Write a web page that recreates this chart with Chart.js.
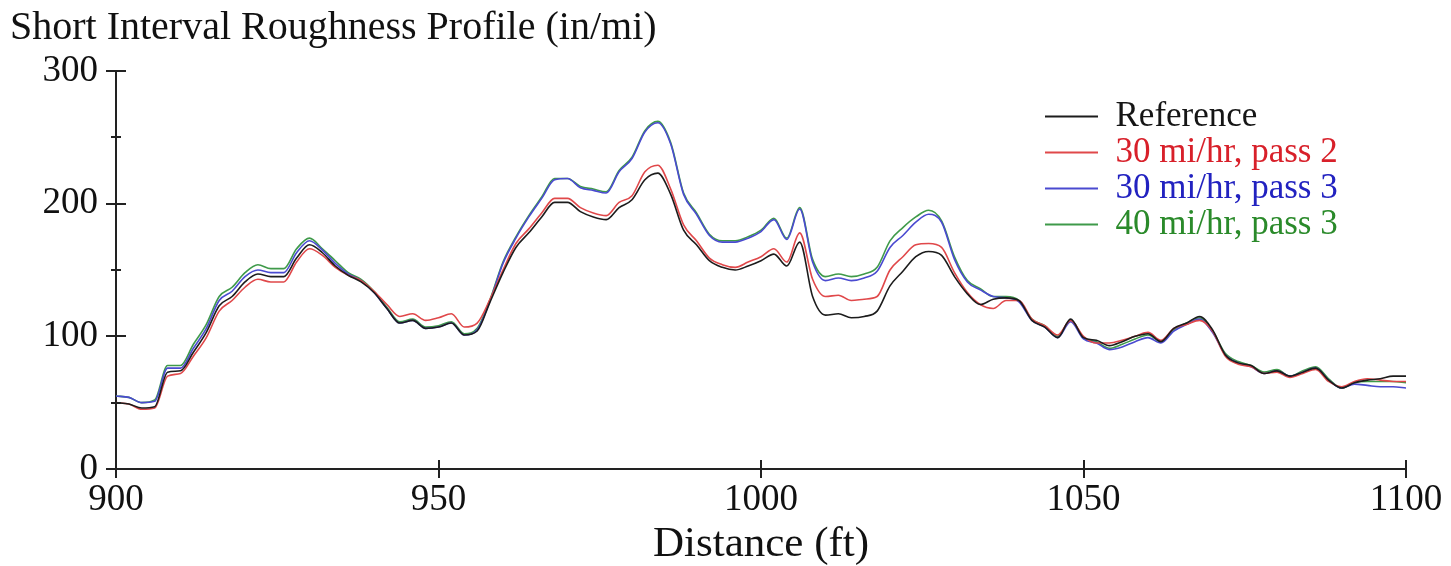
<!DOCTYPE html>
<html>
<head>
<meta charset="utf-8">
<title>Short Interval Roughness Profile</title>
<script src="https://cdn.jsdelivr.net/npm/chart.js@4.4.1/dist/chart.umd.min.js"></script>
<style>
  body { margin: 0; background: #fff; }
  #wrap { width: 1451px; height: 566px; }
</style>
</head>
<body>
<div id="wrap"><canvas id="roughChart" width="1451" height="566"></canvas></div>
<script>
// distance along the section (ft)
const distance = [
  900, 902, 904, 906, 908, 910, 912, 914, 916, 918,
  920, 922, 924, 926, 928, 930, 932, 934, 936, 938,
  940, 942, 944, 946, 948, 950, 952, 954, 956, 958,
  960, 962, 964, 966, 968, 970, 972, 974, 976, 978,
  980, 982, 984, 986, 988, 990, 992, 994, 996, 998,
  1000, 1002, 1004, 1006, 1008, 1010, 1012, 1014, 1016, 1018,
  1020, 1022, 1024, 1026, 1028, 1030, 1032, 1034, 1036, 1038,
  1040, 1042, 1044, 1046, 1048, 1050, 1052, 1054, 1056, 1058,
  1060, 1062, 1064, 1066, 1068, 1070, 1072, 1074, 1076, 1078,
  1080, 1082, 1084, 1086, 1088, 1090, 1092, 1094, 1096, 1098,
  1100
];

// short interval roughness (in/mi)
const reference = [
  50, 49, 46, 47, 73, 74, 88, 103, 123, 130,
  141, 147, 145, 145, 159, 169, 163, 153, 146, 141,
  133, 121, 110, 112, 106, 107, 110, 101, 104, 126,
  148, 167, 178, 190, 201, 201, 194, 190, 188, 197,
  203, 218, 223, 207, 180, 169, 157, 152, 150, 153,
  157, 162, 153, 171, 130, 116, 117, 114, 115, 119,
  138, 149, 160, 164, 161, 145, 132, 124, 128, 129,
  127, 112, 107, 99, 113, 99, 97, 93, 96, 100,
  102, 96, 106, 110, 115, 105, 86, 80, 78, 72,
  74, 70, 73, 76, 67, 61, 65, 67, 68, 70,
  70
];
const mph30pass2 = [
  50, 49, 45, 46, 70, 72, 85, 99, 119, 127,
  137, 143, 141, 141, 156, 166, 161, 152, 146, 142,
  134, 124, 115, 117, 112, 114, 117, 107, 110, 128,
  150, 170, 181, 193, 204, 204, 197, 193, 191, 201,
  206, 224, 229, 211, 184, 172, 159, 154, 152, 156,
  160, 166, 156, 178, 143, 130, 131, 127, 128, 130,
  150, 160, 169, 170, 167, 148, 133, 124, 121, 127,
  127, 113, 108, 101, 112, 100, 95, 95, 97, 100,
  103, 97, 106, 109, 112, 104, 85, 79, 77, 72,
  73, 69, 72, 75, 66, 62, 66, 68, 67, 66,
  66
];
const mph30pass3 = [
  55, 54, 50, 51, 76, 76, 91, 106, 127, 134,
  145, 150, 148, 148, 163, 172, 165, 155, 147, 142,
  133, 121, 110, 112, 106, 107, 110, 101, 105, 127,
  155, 174, 190, 204, 218, 219, 212, 210, 208, 224,
  234, 254, 261, 245, 207, 192, 176, 171, 171, 174,
  179, 188, 173, 196, 156, 142, 144, 142, 144, 149,
  167, 176, 186, 192, 186, 158, 141, 135, 130, 129,
  126, 112, 107, 99, 111, 98, 95, 90, 92, 96,
  99, 95, 104, 109, 113, 103, 86, 80, 77, 72,
  74, 70, 73, 76, 67, 61, 64, 63, 62, 62,
  61
];
const mph40pass3 = [
  55, 54, 50, 52, 78, 78, 94, 109, 130, 137,
  148, 154, 151, 151, 166, 174, 166, 157, 148, 143,
  134, 122, 111, 113, 107, 108, 111, 102, 106, 128,
  156, 175, 191, 205, 219, 219, 213, 211, 209, 225,
  235, 255, 262, 246, 208, 193, 177, 172, 172, 175,
  180, 189, 174, 197, 158, 145, 147, 145, 147, 152,
  172, 182, 190, 195, 187, 160, 142, 136, 130, 130,
  127, 113, 108, 100, 112, 99, 96, 91, 94, 98,
  101, 96, 105, 110, 114, 104, 87, 81, 78, 73,
  75, 70, 74, 77, 68, 61, 65, 66, 66, 66,
  65
];

const seriesNames = ['Reference', '30 mi/hr, pass 2', '30 mi/hr, pass 3', '40 mi/hr, pass 3'];
const xTicks = [900, 950, 1000, 1050, 1100];
const yTicks = [0, 50, 100, 150, 200, 250, 300];

const lineColors = ['#1c1c1c', '#e0484a', '#4a4ad0', '#3f9a4a'];
const textColors = ['#151515', '#d8202a', '#2222c0', '#2a8a2a'];
const serif = "'Liberation Serif', 'Times New Roman', serif";

function toPoints(vals) {
  return distance.map((d, i) => ({ x: d, y: vals[i] }));
}

// tick marks that cross the axis lines (long at labelled values, short between)
const crossTicks = {
  id: 'crossTicks',
  afterDraw(chart) {
    const { ctx, chartArea, scales } = chart;
    ctx.save();
    ctx.strokeStyle = '#222';
    ctx.lineWidth = 2;
    ctx.beginPath();
    yTicks.forEach(v => {
      const py = Math.round(scales.y.getPixelForValue(v));
      const len = v % 100 === 0 ? 10 : 5;
      ctx.moveTo(chartArea.left - len, py);
      ctx.lineTo(chartArea.left + len, py);
    });
    xTicks.forEach(v => {
      const px = Math.round(scales.x.getPixelForValue(v));
      ctx.moveTo(px, chartArea.bottom - 9);
      ctx.lineTo(px, chartArea.bottom + 9);
    });
    ctx.stroke();
    ctx.restore();
  }
};

// put the legend box inside the plot, top right
const legendSpot = {
  id: 'legendSpot',
  afterLayout(chart) {
    const lg = chart.legend;
    if (!lg) return;
    lg.left = 1044;
    lg.top = 98;
    lg.right = lg.left + lg.width;
    lg.bottom = lg.top + 150;
  }
};

const ctx = document.getElementById('roughChart').getContext('2d');
new Chart(ctx, {
  type: 'line',
  data: {
    datasets: [reference, mph30pass2, mph30pass3, mph40pass3].map((vals, i) => ({
      label: seriesNames[i],
      data: toPoints(vals),
      borderColor: lineColors[i],
      backgroundColor: lineColors[i],
      borderWidth: 1.6,
      pointRadius: 0,
      cubicInterpolationMode: 'monotone',
      fill: false
    }))
  },
  options: {
    responsive: false,
    animation: false,
    layout: { padding: { left: 10, right: 45, top: 0, bottom: 0 } },
    plugins: {
      title: {
        display: true,
        text: 'Short Interval Roughness Profile (in/mi)',
        align: 'start',
        color: '#111',
        font: { family: serif, size: 40, weight: 'normal', lineHeight: 1 },
        padding: { top: 8, bottom: 23 }
      },
      legend: {
        position: 'chartArea',
        align: 'start',
        labels: {
          boxWidth: 53,
          boxHeight: 2,
          padding: 1,
          font: { family: serif, size: 35 },
          generateLabels(chart) {
            return chart.data.datasets.map((ds, i) => ({
              text: ds.label,
              fillStyle: lineColors[i],
              strokeStyle: lineColors[i],
              lineWidth: 0,
              fontColor: textColors[i],
              hidden: false,
              datasetIndex: i
            }));
          }
        }
      },
      tooltip: { enabled: false }
    },
    scales: {
      x: {
        type: 'linear',
        min: 900,
        max: 1100,
        afterBuildTicks(scale) { scale.ticks = xTicks.map(v => ({ value: v })); },
        afterFit(scale) { scale.height = 97; },
        grid: { display: false },
        border: { display: true, color: '#222', width: 2 },
        ticks: {
          color: '#111',
          padding: 1,
          maxRotation: 0,
          font: { family: serif, size: 37 },
          callback: v => String(v)
        },
        title: {
          display: true,
          text: 'Distance (ft)',
          color: '#111',
          font: { family: serif, size: 43, lineHeight: 1 },
          padding: { top: 0, bottom: 0 }
        }
      },
      y: {
        min: 0,
        max: 300,
        afterBuildTicks(scale) { scale.ticks = yTicks.map(v => ({ value: v })); },
        afterFit(scale) { scale.width = 106; },
        grid: { display: false },
        border: { display: true, color: '#222', width: 2 },
        ticks: {
          color: '#111',
          padding: 10,
          font: { family: serif, size: 37 },
          callback: v => (v % 100 === 0 ? String(v) : '')
        }
      }
    }
  },
  plugins: [crossTicks, legendSpot]
});
</script>
</body>
</html>
